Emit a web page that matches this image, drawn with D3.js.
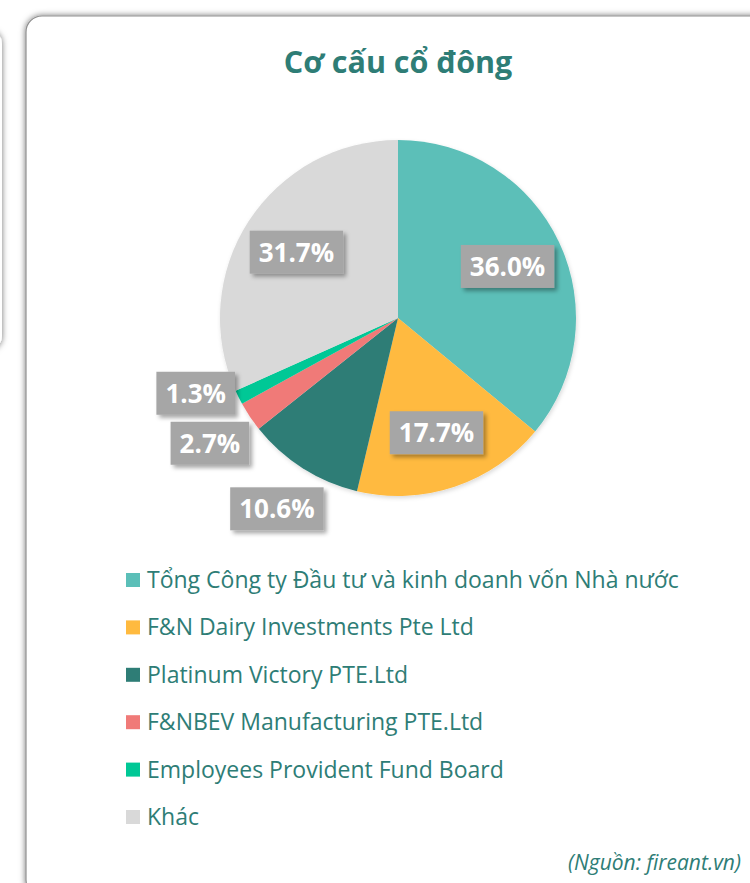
<!DOCTYPE html>
<html lang="vi">
<head>
    <meta charset="UTF-8">
    <title>Cơ cấu cổ đông</title>
    <style>
        body { margin: 0; background: #fff; overflow: hidden; }
        #chart { width: 750px; height: 883px; }
        text { font-family: "Open Sans", "Noto Sans", sans-serif; }
        .title { font-size: 30.5px; font-weight: 700; fill: #2e7d76; }
        .legend text { font-size: 23px; fill: #2e7d76; }
        .lbl { font-size: 26px; font-weight: 700; fill: #fff; }
        .source { font-size: 21px; font-style: italic; fill: #2e7d76; }
    </style>
</head>
<body>
    <div id="chart"></div>
    <script src="https://d3js.org/d3.v7.min.js"></script>
    <script>
        // shareholders, clockwise from 12 o'clock
        const holders = [
            "Tổng Công ty Đầu tư và kinh doanh vốn Nhà nước",
            "F&N Dairy Investments Pte Ltd",
            "Platinum Victory PTE.Ltd",
            "F&NBEV Manufacturing PTE.Ltd",
            "Employees Provident Fund Board",
            "Khác"
        ];
        const shares = [36.0, 17.7, 10.6, 2.7, 1.3, 31.7];
        const colors = ["#5bbfb8", "#ffba3f", "#2e7d76", "#f07a78", "#00c896", "#d9d9d9"];

        const width = 750, height = 883;
        const cx = 398, cy = 318, r = 178;

        const svg = d3.select("#chart").append("svg")
            .attr("width", width)
            .attr("height", height);

        const defs = svg.append("defs");
        defs.append("filter").attr("id", "cardShadow")
            .attr("x", "-10%").attr("y", "-10%").attr("width", "120%").attr("height", "120%")
            .append("feDropShadow")
            .attr("dx", 0).attr("dy", 0).attr("stdDeviation", 3)
            .attr("flood-color", "#000").attr("flood-opacity", 0.55);
        defs.append("filter").attr("id", "boxShadow")
            .attr("x", "-20%").attr("y", "-20%").attr("width", "150%").attr("height", "160%")
            .append("feDropShadow")
            .attr("dx", 3).attr("dy", 3).attr("stdDeviation", 2)
            .attr("flood-color", "#000").attr("flood-opacity", 0.35);
        defs.append("filter").attr("id", "pieShadow")
            .attr("x", "-10%").attr("y", "-10%").attr("width", "120%").attr("height", "120%")
            .append("feDropShadow")
            .attr("dx", 1).attr("dy", 2).attr("stdDeviation", 2)
            .attr("flood-color", "#000").attr("flood-opacity", 0.15);

        // neighbouring card peeking in on the left
        svg.append("rect")
            .attr("x", -300).attr("y", 30).attr("width", 302).attr("height", 320)
            .attr("rx", 14).attr("fill", "#fff")
            .attr("filter", "url(#cardShadow)");

        // main card
        svg.append("rect")
            .attr("x", 26).attr("y", 16).attr("width", 760).attr("height", 880)
            .attr("rx", 16).attr("fill", "#fff")
            .attr("stroke", "#8f8f8f").attr("stroke-width", 1.2)
            .attr("filter", "url(#cardShadow)");

        svg.append("text")
            .attr("class", "title")
            .attr("x", cx).attr("y", 73)
            .attr("text-anchor", "middle")
            .text("Cơ cấu cổ đông");

        const pie = d3.pie().sort(null).value(d => d)(shares);
        const arc = d3.arc().innerRadius(0).outerRadius(r);

        const g = svg.append("g").attr("transform", `translate(${cx},${cy})`);
        g.append("g").attr("filter", "url(#pieShadow)")
            .selectAll("path")
            .data(pie)
            .join("path")
            .attr("d", arc)
            .attr("fill", (d, i) => colors[i]);

        // data labels: inside for big slices, outside for small ones
        const inner = d3.arc().innerRadius(r * 0.68).outerRadius(r * 0.68);
        const outer = d3.arc().innerRadius(226).outerRadius(226);
        const labels = pie.map((d, i) => {
            const big = d.value > 15;
            const [x, y] = (big ? inner : outer).centroid(d);
            return { text: d.value.toFixed(1) + "%", x, y, big };
        });

        // push outside labels apart vertically
        const outs = labels.filter(l => !l.big).sort((a, b) => b.y - a.y);
        for (let k = 1; k < outs.length; k++) {
            if (outs[k - 1].y - outs[k].y < 50) outs[k].y = outs[k - 1].y - 50;
        }

        const lg = g.selectAll("g.lbl-g")
            .data(labels)
            .join("g")
            .attr("class", "lbl-g")
            .attr("transform", d => `translate(${d.x},${d.y})`);

        const rects = lg.append("rect")
            .attr("fill", "#a6a6a6")
            .attr("filter", "url(#boxShadow)");
        const txt = lg.append("text")
            .attr("class", "lbl")
            .attr("text-anchor", "middle")
            .attr("dy", "0.36em")
            .text(d => d.text);
        txt.each(function (d) { d.w = this.getComputedTextLength(); });
        rects
            .attr("x", d => -d.w / 2 - 9)
            .attr("y", -21.5)
            .attr("width", d => d.w + 18)
            .attr("height", 43);

        // legend
        const legend = svg.append("g").attr("class", "legend")
            .attr("transform", "translate(126,580)");
        const item = legend.selectAll("g")
            .data(holders)
            .join("g")
            .attr("transform", (d, i) => `translate(0,${i * 47.4})`);
        item.append("rect")
            .attr("x", 0).attr("y", -7)
            .attr("width", 14).attr("height", 14)
            .attr("fill", (d, i) => colors[i]);
        item.append("text")
            .attr("x", 21).attr("dy", "0.35em")
            .text(d => d);

        svg.append("text")
            .attr("class", "source")
            .attr("x", 568).attr("y", 870)
            .text("(Nguồn: fireant.vn)");
    </script>
</body>
</html>
